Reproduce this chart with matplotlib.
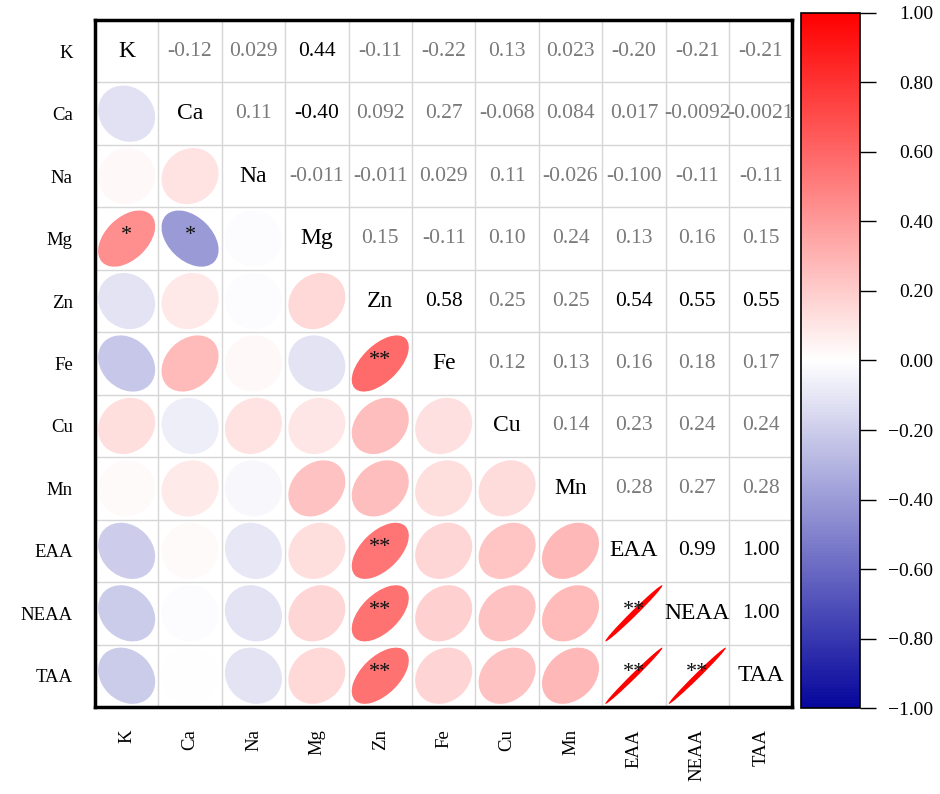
import numpy as np
import matplotlib
matplotlib.use("Agg")
import matplotlib.pyplot as plt
from matplotlib.patches import Ellipse
from matplotlib.colors import LinearSegmentedColormap, Normalize
from matplotlib.cm import ScalarMappable
from matplotlib.ticker import FuncFormatter

plt.rcParams['font.family'] = ['Liberation Serif', 'DejaVu Serif']

names = ["K", "Ca", "Na", "Mg", "Zn", "Fe", "Cu", "Mn", "EAA", "NEAA", "TAA"]

# upper triangle, row by row, as printed in the cells
upper = [
    ["-0.12", "0.029", "0.44", "-0.11", "-0.22", "0.13", "0.023", "-0.20", "-0.21", "-0.21"],
    ["0.11", "-0.40", "0.092", "0.27", "-0.068", "0.084", "0.017", "-0.0092", "-0.0021"],
    ["-0.011", "-0.011", "0.029", "0.11", "-0.026", "-0.100", "-0.11", "-0.11"],
    ["0.15", "-0.11", "0.10", "0.24", "0.13", "0.16", "0.15"],
    ["0.58", "0.25", "0.25", "0.54", "0.55", "0.55"],
    ["0.12", "0.13", "0.16", "0.18", "0.17"],
    ["0.14", "0.23", "0.24", "0.24"],
    ["0.28", "0.27", "0.28"],
    ["0.99", "1.00"],
    ["1.00"],
]

# significance marks (pairs of variables)
sig_pairs = [("K", "Mg", "*"), ("Ca", "Mg", "*"),
             ("Zn", "Fe", "**"), ("Zn", "EAA", "**"), ("Zn", "NEAA", "**"), ("Zn", "TAA", "**"),
             ("EAA", "NEAA", "**"), ("EAA", "TAA", "**"), ("NEAA", "TAA", "**")]

n = len(names)
r = np.eye(n)
txt = {}
for i, row in enumerate(upper):
    for k, s in enumerate(row):
        j = i + 1 + k
        r[i, j] = r[j, i] = float(s)
        txt[(i, j)] = s

sig = {}
for a, b, s in sig_pairs:
    i, j = names.index(a), names.index(b)
    sig[(min(i, j), max(i, j))] = s

cmap = LinearSegmentedColormap.from_list("corr", ["#06069c", "white", "red"])
norm = Normalize(-1, 1)

fig = plt.figure(figsize=(9.4, 7.94), dpi=100)
ax = fig.add_axes([0.101, 0.1096, 0.742, 0.8652])
ax.set_xlim(0, n)
ax.set_ylim(0, n)

for k in range(1, n):
    ax.axvline(k, color="#d6d6d6", lw=1, zorder=0)
    ax.axhline(k, color="#d6d6d6", lw=1, zorder=0)

d = 0.9
for i in range(n):
    for j in range(n):
        x = j + 0.5
        y = n - 1 - i + 0.5
        if i == j:
            ax.text(x, y, names[i], ha="center", va="center", fontsize=17, color="black")
        elif j > i:
            col = "black" if (i, j) in sig else "#7a7a7a"
            ax.text(x, y, txt[(i, j)], ha="center", va="center", fontsize=15.5, color=col)
        else:
            v = r[i, j]
            w = d * np.sqrt(1 + abs(v))
            h = max(d * np.sqrt(1 - abs(v)), 0.08)
            ang = 45 if v >= 0 else -45
            ax.add_patch(Ellipse((x, y), w, h, angle=ang, facecolor=cmap(norm(v)),
                                 edgecolor="none", zorder=2))
            s = sig.get((j, i))
            if s:
                ax.text(x, y + 0.05, s, ha="center", va="center", fontsize=16,
                        color="#111111", zorder=3)

ax.set_xticks(np.arange(n) + 0.5)
ax.set_xticklabels(names, rotation=90, fontsize=13.5)
ax.set_yticks(np.arange(n) + 0.5)
ax.set_yticklabels(names[::-1], fontsize=13.5)
ax.tick_params(length=0, pad=16)
for sp in ax.spines.values():
    sp.set_linewidth(2.5)

cax = fig.add_axes([0.852, 0.108, 0.063, 0.876])
sm = ScalarMappable(norm=norm, cmap=cmap)
cb = fig.colorbar(sm, cax=cax)
cb.set_ticks(np.linspace(-1, 1, 11))
cb.ax.yaxis.set_major_formatter(FuncFormatter(lambda v, p: f"{v:.2f}".replace("-", "\u2212")))
cb.ax.tick_params(length=11.5, width=1, labelsize=14, pad=41)
plt.setp(cb.ax.get_yticklabels(), ha="right")
cb.outline.set_linewidth(1.2)

fig.savefig("out.png", dpi=100)
